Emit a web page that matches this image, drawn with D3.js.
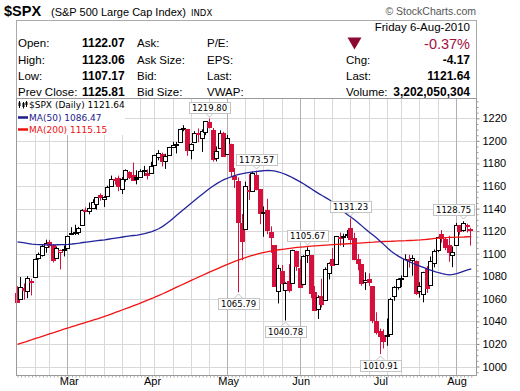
<!DOCTYPE html>
<html>
<head>
<meta charset="utf-8">
<script src="https://cdn.jsdelivr.net/npm/d3@7"></script>
<style>
    body { margin: 0; background: #fff; }
    svg text { font-family: "Liberation Sans", Arial, sans-serif; }
</style>
</head>
<body>
<div id="chart"></div>
<script>
// Daily bars, 8-Feb-2010 .. 6-Aug-2010
let dates = [
    "2010-02-08", "2010-02-09", "2010-02-10", "2010-02-11", "2010-02-12", "2010-02-16", "2010-02-17", "2010-02-18", "2010-02-19", "2010-02-22", "2010-02-23", "2010-02-24", "2010-02-25", "2010-02-26",
    "2010-03-01", "2010-03-02", "2010-03-03", "2010-03-04", "2010-03-05", "2010-03-08", "2010-03-09", "2010-03-10", "2010-03-11", "2010-03-12", "2010-03-15", "2010-03-16", "2010-03-17", "2010-03-18", "2010-03-19", "2010-03-22", "2010-03-23", "2010-03-24", "2010-03-25", "2010-03-26", "2010-03-29", "2010-03-30", "2010-03-31",
    "2010-04-01", "2010-04-05", "2010-04-06", "2010-04-07", "2010-04-08", "2010-04-09", "2010-04-12", "2010-04-13", "2010-04-14", "2010-04-15", "2010-04-16", "2010-04-19", "2010-04-20", "2010-04-21", "2010-04-22", "2010-04-23", "2010-04-26", "2010-04-27", "2010-04-28", "2010-04-29", "2010-04-30",
    "2010-05-03", "2010-05-04", "2010-05-05", "2010-05-06", "2010-05-07", "2010-05-10", "2010-05-11", "2010-05-12", "2010-05-13", "2010-05-14", "2010-05-17", "2010-05-18", "2010-05-19", "2010-05-20", "2010-05-21", "2010-05-24", "2010-05-25", "2010-05-26", "2010-05-27", "2010-05-28",
    "2010-06-01", "2010-06-02", "2010-06-03", "2010-06-04", "2010-06-07", "2010-06-08", "2010-06-09", "2010-06-10", "2010-06-11", "2010-06-14", "2010-06-15", "2010-06-16", "2010-06-17", "2010-06-18", "2010-06-21", "2010-06-22", "2010-06-23", "2010-06-24", "2010-06-25", "2010-06-28", "2010-06-29", "2010-06-30",
    "2010-07-01", "2010-07-02", "2010-07-06", "2010-07-07", "2010-07-08", "2010-07-09", "2010-07-12", "2010-07-13", "2010-07-14", "2010-07-15", "2010-07-16", "2010-07-19", "2010-07-20", "2010-07-21", "2010-07-22", "2010-07-23", "2010-07-26", "2010-07-27", "2010-07-28", "2010-07-29", "2010-07-30",
    "2010-08-02", "2010-08-03", "2010-08-04", "2010-08-05", "2010-08-06"
];

let opens = [
    1065.51, 1060.06, 1069.68, 1067.10, 1075.95, 1079.13, 1096.14, 1099.03, 1105.49, 1110.00, 1107.49, 1095.89, 1101.24, 1103.10,
    1105.36, 1117.01, 1119.36, 1119.12, 1125.12, 1138.40, 1137.56, 1140.22, 1143.96, 1151.71, 1148.53, 1150.83, 1159.94, 1166.13, 1166.68, 1157.25, 1166.47, 1172.70, 1170.03, 1167.58, 1167.71, 1173.75, 1171.75,
    1171.23, 1178.71, 1186.01, 1188.23, 1181.75, 1187.47, 1194.94, 1195.94, 1198.69, 1210.77, 1210.17, 1192.06, 1199.04, 1207.16, 1202.52, 1207.87, 1217.07, 1209.92, 1184.59, 1193.30, 1206.77,
    1188.58, 1197.50, 1169.24, 1164.38, 1127.04, 1122.27, 1156.39, 1155.43, 1170.04, 1157.19, 1136.52, 1138.78, 1119.57, 1107.34, 1067.26, 1084.78, 1067.42, 1075.51, 1074.27, 1102.59,
    1087.30, 1073.01, 1098.82, 1098.43, 1065.84, 1050.81, 1062.75, 1058.77, 1082.65, 1095.00, 1091.21, 1114.02, 1115.98, 1116.16, 1122.79, 1113.90, 1095.57, 1090.93, 1075.10, 1077.50, 1071.10, 1040.56,
    1031.10, 1027.65, 1028.09, 1028.54, 1062.92, 1070.50, 1077.23, 1080.65, 1095.61, 1094.46, 1093.85, 1066.85, 1064.53, 1086.67, 1072.14, 1092.17, 1102.89, 1117.36, 1112.84, 1108.07, 1098.44,
    1107.53, 1125.34, 1121.06, 1125.78, 1122.07
];

let highs = [
    1071.20, 1079.28, 1073.67, 1080.04, 1077.81, 1095.67, 1101.03, 1108.24, 1112.42, 1112.29, 1108.58, 1106.42, 1103.50, 1107.24,
    1116.11, 1123.46, 1125.64, 1123.73, 1139.38, 1141.05, 1145.37, 1148.26, 1150.24, 1153.41, 1150.98, 1160.28, 1169.20, 1167.77, 1169.20, 1167.82, 1174.72, 1173.04, 1180.69, 1173.93, 1174.85, 1177.83, 1174.56,
    1181.43, 1187.73, 1191.80, 1189.60, 1188.55, 1194.66, 1199.20, 1199.04, 1210.65, 1213.92, 1210.17, 1197.87, 1208.58, 1210.99, 1210.27, 1217.28, 1219.80, 1211.38, 1195.05, 1209.36, 1207.99,
    1205.13, 1197.50, 1175.95, 1167.58, 1135.13, 1163.85, 1170.48, 1172.87, 1173.57, 1157.19, 1141.88, 1148.66, 1124.27, 1107.34, 1090.16, 1089.95, 1074.75, 1090.75, 1103.52, 1102.59,
    1094.77, 1098.56, 1105.67, 1098.43, 1071.36, 1063.15, 1077.74, 1087.85, 1092.25, 1105.00, 1115.59, 1118.74, 1117.72, 1121.01, 1131.23, 1118.50, 1099.64, 1090.93, 1083.56, 1082.60, 1071.10, 1048.08,
    1033.58, 1032.95, 1042.50, 1060.89, 1071.25, 1078.16, 1080.78, 1099.46, 1099.08, 1098.66, 1093.85, 1074.70, 1083.94, 1088.96, 1097.50, 1103.73, 1115.01, 1120.95, 1114.66, 1115.90, 1106.44,
    1127.30, 1125.44, 1128.75, 1126.56, 1123.06
];

let lows = [
    1056.51, 1060.06, 1059.34, 1060.59, 1062.97, 1079.13, 1094.72, 1097.48, 1100.80, 1105.38, 1092.18, 1095.50, 1086.02, 1097.56,
    1105.36, 1116.51, 1116.58, 1116.66, 1125.12, 1136.77, 1134.90, 1140.09, 1138.99, 1146.97, 1141.45, 1150.35, 1159.94, 1161.16, 1155.33, 1152.88, 1163.83, 1166.01, 1165.09, 1161.48, 1167.71, 1168.92, 1165.77,
    1170.69, 1178.71, 1182.77, 1177.25, 1175.12, 1187.15, 1194.71, 1188.82, 1198.69, 1208.50, 1186.77, 1183.68, 1199.04, 1198.85, 1190.19, 1205.10, 1211.07, 1181.62, 1181.81, 1193.30, 1186.32,
    1188.58, 1168.12, 1158.15, 1065.79, 1094.15, 1122.27, 1147.71, 1155.43, 1156.14, 1126.14, 1114.96, 1117.20, 1100.66, 1071.58, 1055.90, 1072.70, 1040.78, 1065.59, 1074.27, 1084.78,
    1069.89, 1072.03, 1091.81, 1060.50, 1049.86, 1042.17, 1052.25, 1058.77, 1077.12, 1089.03, 1091.21, 1107.13, 1105.87, 1113.93, 1108.24, 1094.18, 1085.31, 1071.60, 1067.89, 1071.45, 1038.38, 1028.33,
    1010.91, 1015.93, 1018.35, 1028.54, 1058.24, 1068.10, 1070.45, 1080.65, 1087.68, 1080.53, 1063.32, 1061.11, 1056.88, 1065.25, 1072.14, 1087.88, 1101.30, 1109.78, 1103.11, 1092.82, 1088.01,
    1107.53, 1116.76, 1119.46, 1118.81, 1107.17
];

let closes = [
    1056.74, 1070.52, 1068.13, 1078.47, 1075.51, 1094.87, 1099.51, 1106.75, 1109.17, 1108.01, 1094.60, 1105.24, 1102.94, 1104.49,
    1115.71, 1118.31, 1118.79, 1122.97, 1138.70, 1138.50, 1140.45, 1145.61, 1150.24, 1149.99, 1150.51, 1159.46, 1166.21, 1165.83, 1159.90, 1165.81, 1174.17, 1167.72, 1165.73, 1166.59, 1173.22, 1173.27, 1169.43,
    1178.10, 1187.44, 1189.44, 1182.45, 1186.44, 1194.37, 1196.48, 1197.30, 1210.65, 1211.67, 1192.13, 1197.52, 1207.17, 1205.94, 1208.67, 1217.28, 1212.05, 1183.71, 1191.36, 1206.78, 1186.69,
    1202.26, 1173.60, 1165.90, 1128.15, 1110.88, 1159.73, 1155.79, 1171.67, 1157.44, 1135.68, 1136.94, 1120.80, 1115.05, 1071.59, 1087.69, 1073.65, 1074.03, 1067.95, 1103.06, 1089.41,
    1070.71, 1098.38, 1102.83, 1064.88, 1050.47, 1062.00, 1055.69, 1086.84, 1091.60, 1089.63, 1115.23, 1114.61, 1116.04, 1117.51, 1113.20, 1095.31, 1092.04, 1073.69, 1076.76, 1074.57, 1041.24, 1030.71,
    1027.37, 1022.58, 1028.06, 1060.27, 1070.25, 1077.96, 1078.75, 1095.34, 1095.17, 1096.48, 1064.88, 1071.25, 1083.48, 1069.59, 1093.67, 1102.66, 1115.01, 1113.84, 1106.13, 1101.53, 1101.60,
    1125.86, 1120.46, 1127.24, 1125.81, 1121.64
];

let ma50 = [
    1110.5, 1110.0, 1109.5, 1109.0, 1108.5, 1108.2, 1108.0, 1107.9, 1107.8, 1107.8, 1107.8, 1107.9, 1108.0, 1108.1,
    1108.3, 1108.6, 1109.0, 1109.4, 1109.9, 1110.3, 1110.7, 1111.1, 1111.5, 1111.9, 1112.3, 1112.8, 1113.3, 1113.8, 1114.3, 1114.8, 1115.3, 1115.7, 1116.1, 1116.5, 1117.1, 1117.8, 1118.7,
    1119.6, 1120.8, 1122.3, 1124.2, 1126.5, 1129.0, 1131.7, 1134.4, 1137.1, 1139.8, 1142.4, 1145.1, 1147.8, 1150.4, 1153.0, 1155.6, 1158.0, 1160.2, 1162.3, 1164.2, 1165.8,
    1167.1, 1168.3, 1169.5, 1170.3, 1171.0, 1171.6, 1172.1, 1172.5, 1172.9, 1173.3, 1173.6, 1173.8, 1173.7, 1173.2, 1172.4, 1171.3, 1170.0, 1168.6, 1167.0, 1165.2,
    1163.4, 1161.5, 1159.4, 1157.3, 1155.2, 1153.2, 1151.3, 1149.5, 1147.6, 1145.0, 1142.0, 1139.2, 1136.7, 1134.3, 1132.0, 1129.6, 1127.0, 1124.2, 1121.4, 1118.8, 1116.3, 1113.6,
    1110.8, 1107.8, 1104.8, 1102.0, 1099.7, 1097.6, 1095.8, 1094.2, 1092.7, 1091.3, 1090.0, 1088.8, 1087.6, 1086.4, 1085.2, 1084.1, 1083.1, 1082.3, 1081.7, 1081.3, 1081.6,
    1082.3, 1083.4, 1084.6, 1085.7, 1086.47
];

let ma200 = [
    1019.7, 1020.7, 1021.7, 1022.8, 1023.8, 1024.9, 1025.9, 1027.0, 1028.0, 1029.1, 1030.1, 1031.2, 1032.2, 1033.3,
    1034.3, 1035.3, 1036.3, 1037.3, 1038.3, 1039.3, 1040.3, 1041.3, 1042.3, 1043.3, 1044.4, 1045.5, 1046.7, 1047.9, 1049.1, 1050.3, 1051.5, 1052.7, 1053.9, 1055.1, 1056.4, 1057.7, 1059.0,
    1060.3, 1061.7, 1063.1, 1064.5, 1066.0, 1067.5, 1069.0, 1070.5, 1072.0, 1073.5, 1075.0, 1076.5, 1078.0, 1079.4, 1080.9, 1082.4, 1083.8, 1085.2, 1086.6, 1088.0, 1089.4,
    1090.8, 1092.1, 1093.4, 1094.6, 1095.7, 1096.8, 1097.8, 1098.7, 1099.6, 1100.4, 1101.2, 1101.9, 1102.5, 1103.0, 1103.5, 1103.9, 1104.3, 1104.7, 1105.1, 1105.5,
    1105.8, 1106.1, 1106.4, 1106.7, 1107.0, 1107.2, 1107.4, 1107.6, 1107.8, 1108.0, 1108.2, 1108.4, 1108.6, 1108.8, 1109.0, 1109.2, 1109.4, 1109.6, 1109.8, 1110.0, 1110.2, 1110.5,
    1110.7, 1110.8, 1110.9, 1111.0, 1111.2, 1111.3, 1111.4, 1111.5, 1111.7, 1111.8, 1112.0, 1112.2, 1112.5, 1112.8, 1113.2, 1113.6, 1113.8, 1114.0, 1114.2, 1114.4, 1114.5,
    1114.6, 1114.7, 1114.8, 1115.0, 1115.15
];

let yTicks = [1000, 1020, 1040, 1060, 1080, 1100, 1120, 1140, 1160, 1180, 1200, 1220];
let monthNames = ["Jan", "Feb", "Mar", "Apr", "May", "Jun", "Jul", "Aug", "Sep", "Oct", "Nov", "Dec"];

// price labels at swing highs / lows
let pivotDates = ["2010-04-26", "2010-05-06", "2010-05-13", "2010-05-25", "2010-06-03", "2010-06-21", "2010-07-01", "2010-08-04"];
let pivotValues = [1219.80, 1065.79, 1173.57, 1040.78, 1105.67, 1131.23, 1010.91, 1128.75];
let pivotSides = ["high", "low", "high", "low", "high", "high", "low", "high"];

// quote box
let quoteLabels1 = ["Open:", "High:", "Low:", "Prev Close:"];
let quoteValues1 = ["1122.07", "1123.06", "1107.17", "1125.81"];
let quoteLabels2 = ["Ask:", "Ask Size:", "Bid:", "Bid Size:"];
let quoteLabels3 = ["P/E:", "EPS:", "Last:", "VWAP:"];
let quoteLabels4 = ["Chg:", "Last:", "Volume:"];
let quoteValues4 = ["-4.17", "1121.64", "3,202,050,304"];


function drawChart() {
    let width = 520, height = 391;
    let plot = {left: 16.5, right: 476.5, top: 98.5, bottom: 375.5};
    let upColor = "#000000", downColor = "#d4103c";

    let svg = d3.select("#chart")
        .append("svg")
        .attr("width", width)
        .attr("height", height);

    svg.append("rect").attr("width", width).attr("height", height).attr("fill", "#fff");

    let parseDate = d3.timeParse("%Y-%m-%d");
    let bars = dates.map(function (d, i) {
        return {
            i: i, date: parseDate(d),
            open: opens[i], high: highs[i], low: lows[i], close: closes[i],
            prev: i > 0 ? closes[i - 1] : opens[i]
        };
    });

    let x = d3.scaleLinear().domain([0, dates.length - 1]).range([17.5, 471.3]);
    let y = d3.scaleLinear().domain([1000, 1220]).range([366.5, 118.3]);
    let cx = function (i) { return Math.round(x(i)); };

    // ---- header ----
    svg.append("text").attr("x", 4).attr("y", 16)
        .style("font-size", "14.5px").style("font-weight", "bold").text("$SPX");
    svg.append("text").attr("x", 51).attr("y", 16)
        .style("font-size", "11px").text("(S&P 500 Large Cap Index)");
    svg.append("text").attr("x", 191).attr("y", 16)
        .style("font-family", "DejaVu Sans").style("font-size", "8.5px").text("INDX");
    svg.append("text").attr("x", 476).attr("y", 15)
        .style("font-size", "10.5px").style("fill", "#555").attr("text-anchor", "end")
        .text("\u00a9 StockCharts.com");

    svg.append("rect")
        .attr("x", plot.left).attr("y", 20.5)
        .attr("width", plot.right - plot.left).attr("height", plot.top - 20.5)
        .attr("fill", "none").attr("stroke", "#aaa");

    let rowY = [47, 63.5, 80, 96];
    let addCol = function (list, xPos, bold, anchor, rows) {
        svg.append("g").selectAll("text")
            .data(list)
            .enter()
            .append("text")
            .attr("x", xPos)
            .attr("y", function (d, i) { return rows[i]; })
            .attr("text-anchor", anchor)
            .style("font-size", bold ? "12px" : "11.5px")
            .style("font-weight", bold ? "bold" : "normal")
            .text(function (d) { return d; });
    };
    addCol(quoteLabels1, 18, false, "start", rowY);
    addCol(quoteValues1, 82, true, "start", rowY);
    addCol(quoteLabels2, 137, false, "start", rowY);
    addCol(quoteLabels3, 207, false, "start", rowY);
    addCol(quoteLabels4, 346, false, "start", rowY.slice(1));
    addCol(quoteValues4, 470, true, "end", rowY.slice(1));

    svg.append("text").attr("x", 470).attr("y", 31).attr("text-anchor", "end")
        .style("font-size", "11.5px").text("Friday  6-Aug-2010");
    svg.append("text").attr("x", 470).attr("y", 48.5).attr("text-anchor", "end")
        .style("font-size", "14.5px").style("fill", "#a3103e").text("-0.37%");
    svg.append("path")
        .attr("d", "M347.5,37.5 L361.5,37.5 L354.5,49.5 Z")
        .attr("fill", "#8c0a32");

    // ---- grid ----
    let grid = svg.append("g");
    grid.selectAll(".hgrid")
        .data(yTicks)
        .enter()
        .append("line")
        .attr("x1", plot.left).attr("x2", plot.right)
        .attr("y1", function (d) { return Math.round(y(d)) + 0.5; })
        .attr("y2", function (d) { return Math.round(y(d)) + 0.5; })
        .attr("stroke", "#d8d8d8");

    let weekStarts = bars.filter(function (b, i) {
        return i > 0 && +d3.timeMonday.floor(b.date) !== +d3.timeMonday.floor(bars[i - 1].date);
    });
    let monthStarts = bars.filter(function (b, i) {
        return i > 0 && b.date.getMonth() !== bars[i - 1].date.getMonth();
    });

    grid.selectAll(".vgrid")
        .data(weekStarts)
        .enter()
        .append("line")
        .attr("x1", function (d) { return cx(d.i) - 0.5; })
        .attr("x2", function (d) { return cx(d.i) - 0.5; })
        .attr("y1", plot.top).attr("y2", plot.bottom)
        .attr("stroke", function (d) {
            return monthStarts.indexOf(d) >= 0 ? "#b0b0b0" : "#d8d8d8";
        });

    // ---- candles ----
    let candle = svg.append("g").selectAll("g")
        .data(bars)
        .enter()
        .append("g");

    let barColor = function (d) { return d.close >= d.prev ? upColor : downColor; };

    candle.append("line")
        .attr("x1", function (d) { return cx(d.i) - 0.5; })
        .attr("x2", function (d) { return cx(d.i) - 0.5; })
        .attr("y1", function (d) { return y(d.high); })
        .attr("y2", function (d) { return y(d.low); })
        .attr("stroke", barColor);

    candle.append("rect")
        .attr("x", function (d) { return cx(d.i) - 2.5; })
        .attr("width", 4)
        .attr("y", function (d) { return Math.round(y(Math.max(d.open, d.close))) + 0.5; })
        .attr("height", function (d) {
            return Math.max(1, Math.round(y(Math.min(d.open, d.close))) - Math.round(y(Math.max(d.open, d.close))));
        })
        .attr("fill", function (d) { return d.close >= d.open ? "#fff" : barColor(d); })
        .attr("stroke", barColor);

    // ---- moving averages ----
    let maLine = function (values) {
        return d3.line()
            .x(function (d, i) { return x(i); })
            .y(function (d) { return y(d); })(values);
    };
    svg.append("path").attr("d", maLine(ma200))
        .attr("fill", "none").attr("stroke", "#f01414").attr("stroke-width", 1.3);
    svg.append("path").attr("d", maLine(ma50))
        .attr("fill", "none").attr("stroke", "#23239c").attr("stroke-width", 1.3);

    // ---- pivot labels ----
    let pivots = pivotDates.map(function (d, k) {
        let i = dates.indexOf(d);
        return {i: i, value: pivotValues[k], side: pivotSides[k]};
    });
    let pl = svg.append("g").selectAll("g")
        .data(pivots)
        .enter()
        .append("g");

    pl.each(function (d) {
        let g = d3.select(this);
        let px = cx(d.i) - 0.5;
        let py = y(d.value);
        let t = g.append("text")
            .style("font-family", "DejaVu Sans")
            .style("font-size", "8.5px")
            .text(d.value.toFixed(2));
        let w = Math.ceil(t.node().getComputedTextLength()) + 5;
        let h = 11;
        let bx = Math.round(px - w / 2);
        if (bx + w > plot.right - 3) bx = Math.round(plot.right - 3 - w);
        let by = d.side === "high" ? Math.round(py - 6 - h) : Math.round(py + 6);
        let tip = d.side === "high"
            ? "M" + (px - 4) + "," + (by + h) + " L" + px + "," + (by + h + 4) + " L" + (px + 4) + "," + (by + h)
            : "M" + (px - 4) + "," + by + " L" + px + "," + (by - 4) + " L" + (px + 4) + "," + by;
        g.insert("path", "text").attr("d", tip).attr("fill", "#fff").attr("stroke", "#c4c4c4");
        g.insert("rect", "text")
            .attr("x", bx + 0.5).attr("y", by + 0.5)
            .attr("width", w).attr("height", h)
            .attr("fill", "#fff").attr("stroke", "#c4c4c4");
        t.attr("x", bx + 3).attr("y", by + 9);
    });

    // ---- legend ----
    let legend = svg.append("g");
    legend.append("rect").attr("x", 17).attr("y", 99).attr("width", 108).attr("height", 36).attr("fill", "#fff");
    let legendRows = [
        {label: "$SPX (Daily) 1121.64", color: "#000", y: 108},
        {label: "MA(50) 1086.47", color: "#1c1c8c", y: 120.5},
        {label: "MA(200) 1115.15", color: "#ee1010", y: 132.5}
    ];
    legend.selectAll("text")
        .data(legendRows)
        .enter()
        .append("text")
        .attr("x", 29)
        .attr("y", function (d) { return d.y; })
        .style("font-family", "DejaVu Sans")
        .style("font-size", "9px")
        .style("fill", function (d) { return d.color; })
        .text(function (d) { return d.label; });
    legend.selectAll(".swatch")
        .data(legendRows.slice(1))
        .enter()
        .append("line")
        .attr("x1", 18).attr("x2", 28)
        .attr("y1", function (d) { return d.y - 3; })
        .attr("y2", function (d) { return d.y - 3; })
        .attr("stroke", function (d) { return d.color; })
        .attr("stroke-width", 2.5);
    // tiny candle icon
    [[19.5, 101, 108, 102.5, 106], [23.5, 102, 108.5, 103, 107], [26.5, 101, 107, 102, 105]].forEach(function (c) {
        legend.append("line").attr("x1", c[0]).attr("x2", c[0]).attr("y1", c[1]).attr("y2", c[2]).attr("stroke", "#000");
        legend.append("rect").attr("x", c[0] - 1).attr("y", c[3]).attr("width", 2).attr("height", c[4] - c[3]).attr("fill", "#000");
    });

    // ---- axes ----
    let yAxis = d3.axisRight(y).tickValues(yTicks).tickSize(3).tickPadding(3).tickFormat(d3.format("d"));
    let yG = svg.append("g").attr("transform", "translate(" + plot.right + ",0)").call(yAxis);
    yG.select(".domain").remove();
    yG.selectAll("line").attr("stroke", "#888");
    yG.selectAll("text").style("font-family", "Liberation Sans").style("font-size", "11px").attr("fill", "#000");

    let minor = d3.range(995, 1236, 5).filter(function (v) { return v % 20 !== 0; });
    let yMinor = svg.append("g").attr("transform", "translate(" + plot.right + ",0)")
        .call(d3.axisRight(y).tickValues(minor).tickSize(2).tickFormat(""));
    yMinor.select(".domain").remove();
    yMinor.selectAll("line").attr("stroke", "#999");

    let xAxis = d3.axisBottom(d3.scaleLinear().domain(x.domain()).range(x.range().map(Math.round)))
        .tickValues(monthStarts.map(function (d) { return d.i; }))
        .tickSize(0).tickPadding(2)
        .tickFormat(function (i) { return monthNames[bars[i].date.getMonth()]; });
    let xG = svg.append("g").attr("transform", "translate(0," + plot.bottom + ")").call(xAxis);
    xG.select(".domain").remove();
    xG.selectAll("text").style("font-family", "Liberation Sans").style("font-size", "11px").attr("fill", "#000");

    let xMinor = svg.append("g").attr("transform", "translate(0," + plot.bottom + ")")
        .call(d3.axisBottom(x).tickValues(d3.range(dates.length)).tickSize(2).tickFormat(""));
    xMinor.select(".domain").remove();
    xMinor.selectAll("line").attr("stroke", "#aaa");

    // plot border
    svg.append("rect")
        .attr("x", plot.left).attr("y", plot.top)
        .attr("width", plot.right - plot.left).attr("height", plot.bottom - plot.top)
        .attr("fill", "none").attr("stroke", "#9a9a9a");
}

drawChart();
</script>
</body>
</html>
